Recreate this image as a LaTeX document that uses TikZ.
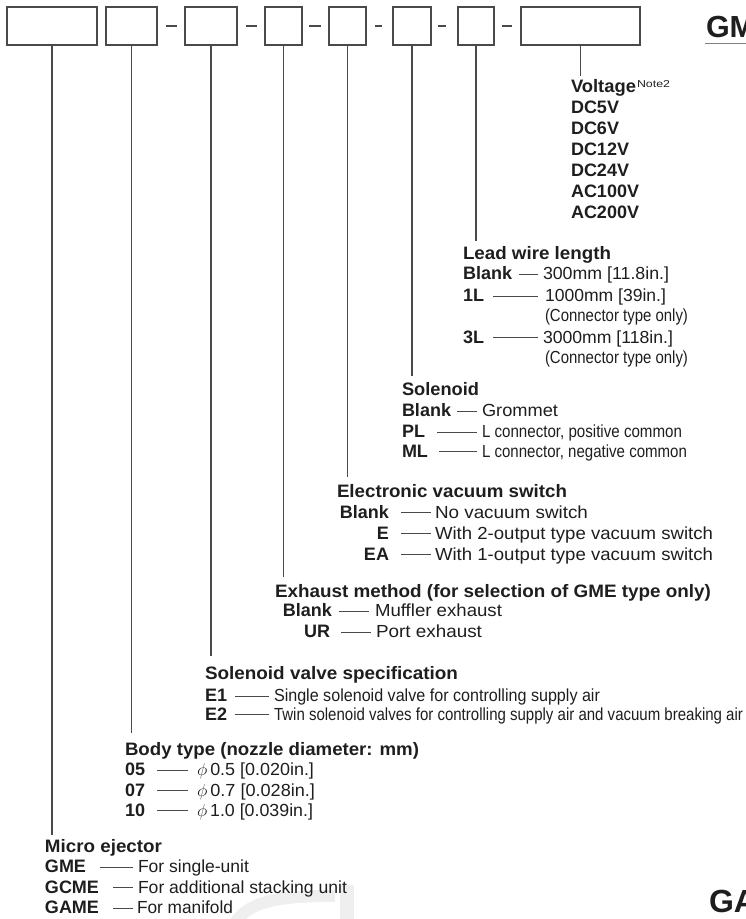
\documentclass[tikz,border=0pt]{standalone}
\usepackage{fontspec}
\setmainfont{Liberation Sans}
\usepackage{graphicx}
\definecolor{txt}{HTML}{1E1E1E}
\definecolor{lnc}{HTML}{4A4A4A}
\definecolor{wmk}{HTML}{EFEFEF}
\newcommand{\fw}[2]{\resizebox{#1pt}{\height}{#2}}
\newcommand{\rsz}{\fontsize{17.5}{20}\selectfont}
\newcommand{\bsz}{\fontsize{18}{20}\selectfont\bfseries}
\tikzset{
 every node/.style={inner sep=0pt, outer sep=0pt, text=txt},
 hb/.style={anchor=base west, font=\bsz},
 hbe/.style={anchor=base east, font=\bsz},
 rt/.style={anchor=base west, font=\rsz},
 boxn/.style={draw=lnc, line width=1.4pt, minimum height=38pt},
 ln/.style={draw=lnc, line width=1.4pt},
 dl/.style={draw=lnc, line width=1pt},
 sepl/.style={draw=lnc, line width=1.3pt},
}
\begin{document}
\begin{tikzpicture}[x=1pt,y=-1pt]
\useasboundingbox (0,0) rectangle (746,919);
\clip (0,0) rectangle (746,919);
% faint watermark
\draw[wmk, line width=12pt] (234,925) .. controls (248,898) and (290,896) .. (335,896);
\fill[wmk] (340,885) rectangle (354,919);
% boxes
\node[boxn, minimum width=90pt] (b1) at (52,26) {};
\node[boxn, minimum width=51pt] (b2) at (131.5,26) {};
\node[boxn, minimum width=52pt] (b3) at (211,26) {};
\node[boxn, minimum width=37pt] (b4) at (283.5,26) {};
\node[boxn, minimum width=37pt] (b5) at (347.5,26) {};
\node[boxn, minimum width=38pt] (b6) at (412,26) {};
\node[boxn, minimum width=36pt] (b7) at (476,26) {};
\node[boxn, minimum width=119pt] (b8) at (580.5,26) {};
% separators
\draw[sepl] ([xshift=9pt]b2.east) -- ([xshift=-8pt]b3.west);
\draw[sepl] ([xshift=9pt]b3.east) -- ([xshift=-8pt]b4.west);
\draw[sepl] ([xshift=7pt]b4.east) -- ([xshift=-8pt]b5.west);
\draw[sepl] ([xshift=9pt]b5.east) -- ([xshift=-11pt]b6.west);
\draw[sepl] ([xshift=7pt]b6.east) -- ([xshift=-12pt]b7.west);
\draw[sepl] ([xshift=8pt]b7.east) -- ([xshift=-9pt]b8.west);
% line ends
\coordinate (e1) at (52,835);
\coordinate (e2) at (131.5,733);
\coordinate (e3) at (211,656);
\coordinate (e4) at (283.5,577);
\coordinate (e5) at (347.5,477);
\coordinate (e6) at (412,376);
\coordinate (e7) at (476,241);
\coordinate (e8) at (580.5,76);
\draw[ln] (b1.south) -- (e1);
\draw[ln] (b2.south) -- (e2);
\draw[ln] (b3.south) -- (e3);
\draw[ln] (b4.south) -- (e4);
\draw[ln] (b5.south) -- (e5);
\draw[ln] (b6.south) -- (e6);
\draw[ln] (b7.south) -- (e7);
\draw[ln] (b8.south) -- (e8);
% GM / GA
\node[anchor=base west, font=\fontsize{30.5}{31}\selectfont\bfseries] (gm) at (706,37) {GM};
\coordinate (gmu) at (746,43);
\draw[draw=gray, line width=0.8pt] (705,43) -- (gmu);
\node[anchor=base west, font=\fontsize{32}{33}\selectfont\bfseries] (ga) at (709,912) {GA};
% Voltage
\node[hb] (vh) at (571,92.5) {\fw{65}{Voltage}};
\node[anchor=base west, font=\fontsize{10}{11}\selectfont] (vn) at ([xshift=1pt, yshift=5pt]vh.base east) {\fw{33}{Note2}};
\node[hb] (v1) at (571,113.5) {DC5V};
\node[hb] (v2) at (571,134.5) {DC6V};
\node[hb] (v3) at (571,155.5) {DC12V};
\node[hb] (v4) at (571,176.5) {DC24V};
\node[hb] (v5) at (571,197.5) {AC100V};
\node[hb] (v6) at (571,218.5) {AC200V};
% Lead wire length
\node[hb] (lh) at (463,259.5) {\fw{148}{Lead wire length}};
\node[hb] (l1) at (463,279.5) {Blank};
\node[rt] (l1d) at (543,279.5) {\fw{126}{300mm [11.8in.]}};
\draw[dl] (519,274) -- (538,274);
\node[hb] (l2) at (463,301.5) {1L};
\node[rt] (l2d) at (545,301.5) {\fw{121}{1000mm [39in.]}};
\draw[dl] (493,296) -- (538,296);
\node[rt] (l2n) at (545,321.5) {\fw{143}{(Connector type only)}};
\node[hb] (l3) at (463,343) {3L};
\node[rt] (l3d) at (543,343) {\fw{130}{3000mm [118in.]}};
\draw[dl] (493,337.5) -- (538,337.5);
\node[rt] (l3n) at (545,363) {\fw{143}{(Connector type only)}};
% Solenoid
\node[hb] (sh) at (402,395) {\fw{77}{Solenoid}};
\node[hb] (s1) at (402,416.5) {Blank};
\node[rt] (s1d) at (482,416.5) {\fw{76}{Grommet}};
\draw[dl] (457,411) -- (477,411);
\node[hb] (s2) at (402,437.5) {PL};
\node[rt] (s2d) at (482,437.5) {\fw{200}{L connector, positive common}};
\draw[dl] (437,432) -- (477,432);
\node[hb] (s3) at (402,457) {ML};
\node[rt] (s3d) at (482,457) {\fw{205}{L connector, negative common}};
\draw[dl] (439,451.5) -- (477,451.5);
% Electronic vacuum switch
\node[hb] (vsh) at (337,497.5) {\fw{230}{Electronic vacuum switch}};
\node[hbe] (vs1) at (389,518) {Blank};
\node[rt] (vs1d) at (435,518) {\fw{153}{No vacuum switch}};
\draw[dl] (401,512.5) -- (431,512.5);
\node[hbe] (vs2) at (389,539) {E};
\node[rt] (vs2d) at (435,539) {\fw{278}{With 2-output type vacuum switch}};
\draw[dl] (401,533.5) -- (431,533.5);
\node[hbe] (vs3) at (389,560) {EA};
\node[rt] (vs3d) at (435,560) {\fw{278}{With 1-output type vacuum switch}};
\draw[dl] (401,554.5) -- (431,554.5);
% Exhaust method
\node[hb] (xh) at (275,597.5) {\fw{436}{Exhaust method (for selection of GME type only)}};
\node[hbe] (x1) at (332,616.5) {Blank};
\node[rt] (x1d) at (375,616.5) {\fw{127}{Muffler exhaust}};
\draw[dl] (339,611) -- (369,611);
\node[hbe] (x2) at (330,637.5) {UR};
\node[rt] (x2d) at (376,637.5) {\fw{106}{Port exhaust}};
\draw[dl] (341,632) -- (371,632);
% Solenoid valve specification
\node[hb] (vh2) at (205,679.5) {\fw{253}{Solenoid valve specification}};
\node[hb] (e1l) at (205,701.5) {E1};
\node[rt] (e1d) at (274,701.5) {\fw{326}{Single solenoid valve for controlling supply air}};
\draw[dl] (235,696) -- (269,696);
\node[hb] (e2l) at (205,720) {E2};
\node[rt] (e2d) at (274,720) {\fw{469}{Twin solenoid valves for controlling supply air and vacuum breaking air}};
\draw[dl] (235,714.5) -- (269,714.5);
% Body type
\node[hb] (bh) at (125,755) {\fw{294}{Body type (nozzle diameter: mm)}};
\node[hb] (bt1) at (125,775.5) {05};
\node[rt] (bt1d) at (197,775.5) {\fw{117}{$\phi$\,0.5 [0.020in.]}};
\draw[dl] (157,770) -- (188,770);
\node[hb] (bt2) at (125,796) {07};
\node[rt] (bt2d) at (197,796) {\fw{118}{$\phi$\,0.7 [0.028in.]}};
\draw[dl] (157,790.5) -- (188,790.5);
\node[hb] (bt3) at (125,816) {10};
\node[rt] (bt3d) at (197,816) {\fw{116}{$\phi$\,1.0 [0.039in.]}};
\draw[dl] (157,810.5) -- (188,810.5);
% Micro ejector
\node[hb] (mh) at (45,852.5) {\fw{117}{Micro ejector}};
\node[hb] (m1) at (45,872.5) {GME};
\node[rt] (m1d) at (138,872.5) {\fw{111}{For single-unit}};
\draw[dl] (100,867) -- (133,867);
\node[hb] (m2) at (45,893) {GCME};
\node[rt] (m2d) at (138,893) {\fw{209}{For additional stacking unit}};
\draw[dl] (113,887.5) -- (133,887.5);
\node[hb] (m3) at (45,913.5) {GAME};
\node[rt] (m3d) at (137,913.5) {\fw{96}{For manifold}};
\draw[dl] (113,908) -- (133,908);
\end{tikzpicture}
\end{document}
